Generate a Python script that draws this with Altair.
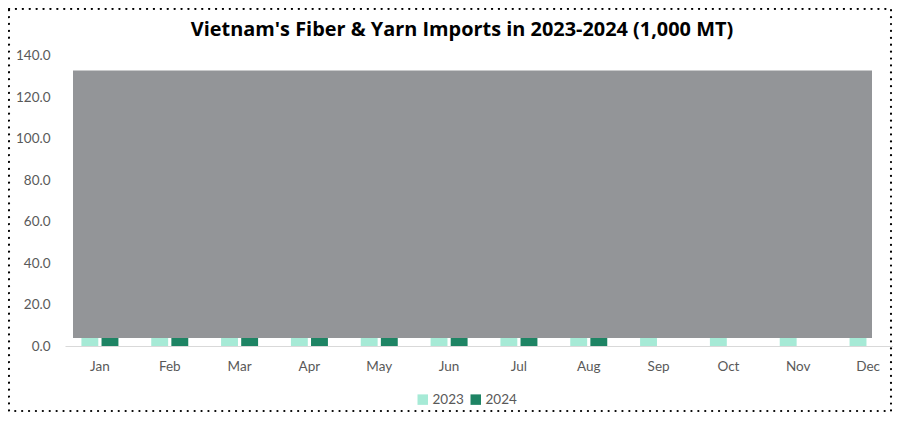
import altair as alt
import pandas as pd

months = ["Jan", "Feb", "Mar", "Apr", "May", "Jun", "Jul", "Aug", "Sep", "Oct", "Nov", "Dec"]
# Values are hidden under the grey overlay in the source; estimates kept below the overlay top
v2023 = [78.0, 96.0, 118.0, 112.0, 121.0, 115.0, 119.0, 124.0, 116.0, 122.0, 118.0, 125.0]
v2024 = [101.0, 92.0, 127.0, 126.0, 129.0, 124.0, 130.0, 128.0]
years = ["2023", "2024"]
colors = ["#A6EAD6", "#1E8464"]
y_ticks = [0, 20, 40, 60, 80, 100, 120, 140]
overlay_top = 132.8
overlay_bottom = 3.9
title_text = "Vietnam's Fiber & Yarn Imports in 2023-2024 (1,000 MT)"

rows = []
for m, v in zip(months, v2023):
    rows.append({"month": m, "year": "2023", "value": v})
for m, v in zip(months, v2024):
    rows.append({"month": m, "year": "2024", "value": v})
df = pd.DataFrame(rows)

FONT = "Lato"
GREY = "#595959"

bars = alt.Chart(df).mark_bar().encode(
    x=alt.X("month:N", sort=months,
            scale=alt.Scale(range=[0, 838], paddingInner=0.47, paddingOuter=0.235),
            axis=alt.Axis(title=None, labelAngle=0, labelColor=GREY, labelFontSize=13.5,
                          labelFont=FONT, ticks=False, domainColor="#D9D9D9",
                          domainWidth=1, labelPadding=13)),
    xOffset=alt.XOffset("year:N", scale=alt.Scale(domain=years, paddingInner=0.16, paddingOuter=0)),
    y=alt.Y("value:Q", scale=alt.Scale(domain=[0, 140], nice=False),
            axis=alt.Axis(title=None, values=y_ticks, format=".1f", labelColor=GREY,
                          labelFontSize=13.5, labelFont=FONT, ticks=False, domain=False,
                          grid=False, labelPadding=15)),
    color=alt.Color("year:N", scale=alt.Scale(domain=years, range=colors),
                    legend=alt.Legend(title=None, orient="none", direction="horizontal",
                                      legendX=351, legendY=337, symbolType="square",
                                      symbolSize=110, symbolStrokeWidth=0,
                                      labelFontSize=13.5, labelColor=GREY, labelFont=FONT,
                                      columnPadding=5, labelOffset=3)),
)

ov = pd.DataFrame({"top": [overlay_top], "bottom": [overlay_bottom], "title": [title_text]})
overlay = alt.Chart(ov).mark_rect(color="#939598").encode(
    x=alt.value(8), x2=alt.value(807),
    y="top:Q", y2="bottom:Q",
)

title = alt.Chart(ov).mark_text(font="Open Sans", fontSize=19.9, fontWeight="bold", color="#000000",
                                align="center", baseline="alphabetic").encode(
    text="title:N", x=alt.value(397), y=alt.value(-19.5),
)

border = alt.Chart(ov).mark_rect(fill=None, stroke="#000000", strokeWidth=2.2,
                                 strokeDash=[0.1, 6.8], strokeCap="round", clip=False).encode(
    x=alt.value(-56), x2=alt.value(826),
    y=alt.value(-46.5), y2=alt.value(355.5),
)

chart = alt.layer(bars, overlay, title, border).properties(
    width=828, height=290.5,
    autosize=alt.AutoSizeParams(type="none"),
    padding={"left": 57, "top": 47.5, "right": 0, "bottom": 67},
).configure_view(stroke=None)

chart.save("out.html", embed_options={"renderer": "svg", "actions": False})
